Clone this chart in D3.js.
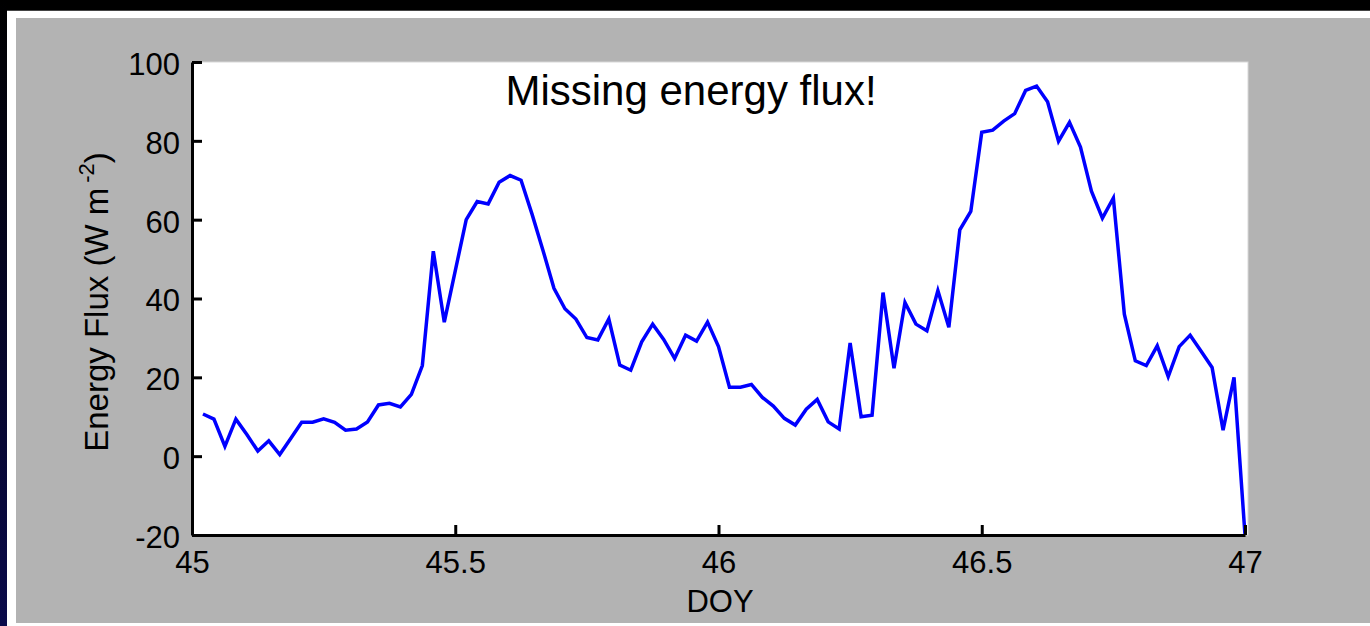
<!DOCTYPE html>
<html>
<head>
<meta charset="utf-8">
<script src="https://cdn.jsdelivr.net/npm/d3@7"></script>
<style>
  html, body { margin: 0; padding: 0; background: #000; }
  svg { display: block; }
  text { font-family: "Liberation Sans", Arial, Helvetica, sans-serif; fill: #000; }
</style>
</head>
<body>
<svg id="chart" width="1370" height="626"></svg>
<script>
// Half-hourly energy flux over two days of year (DOY 45 - 47)
const doyStart = 45;
const stepsPerDay = 48;
const fluxValues = [
  10.7, 9.4, 2.5, 9.4, 5.5, 1.3, 3.9, 0.4, 4.5, 8.6,
  8.6, 9.5, 8.6, 6.6, 6.9, 8.7, 13.0, 13.4, 12.5, 15.7,
  23.0, 52.0, 34.0, 47.0, 60.0, 64.6, 64.0, 69.5, 71.2, 70.0,
  61.4, 52.2, 42.6, 37.4, 34.8, 30.1, 29.5, 34.8, 23.1, 21.8,
  29.0, 33.5, 29.6, 24.8, 30.7, 29.2, 34.0, 27.8, 17.5, 17.5,
  18.2, 14.9, 12.7, 9.6, 7.9, 11.9, 14.4, 8.7, 6.9, 28.7,
  10.0, 10.4, 41.5, 22.3, 39.0, 33.5, 31.8, 42.0, 32.7, 57.4,
  62.1, 82.2, 82.7, 85.0, 86.9, 92.8, 93.9, 89.9, 79.9, 84.7,
  78.4, 67.2, 60.4, 65.5, 36.0, 24.2, 23.0, 28.0, 20.2, 27.8,
  30.7, 26.6, 22.5, 6.6, 20.0, -20.0
];
const xTicks = [45, 45.5, 46, 46.5, 47];
const yTicks = [-20, 0, 20, 40, 60, 80, 100];
const titleText = "Missing energy flux!";
const xLabel = "DOY";
const yLabelMain = "Energy Flux (W m";
const yLabelSup = "-2";

(function () {
  const svg = d3.select("#chart");

  // slide frame: black top band, dark left edge, white margins, grey panel
  const defs = svg.append("defs");
  const edge = defs.append("linearGradient").attr("id", "edgeGrad")
    .attr("x1", 0).attr("y1", 0).attr("x2", 0).attr("y2", 1);
  edge.append("stop").attr("offset", "0%").attr("stop-color", "#000000");
  edge.append("stop").attr("offset", "100%").attr("stop-color", "#0a0a4a");

  svg.append("rect").attr("x", 0).attr("y", 0).attr("width", 1370).attr("height", 626).attr("fill", "#ffffff");
  svg.append("rect").attr("x", 0).attr("y", 0).attr("width", 1370).attr("height", 10).attr("fill", "#000000");
  svg.append("rect").attr("x", 0).attr("y", 10).attr("width", 1370).attr("height", 1).attr("fill", "#444444");
  svg.append("rect").attr("x", 0).attr("y", 0).attr("width", 7).attr("height", 626).attr("fill", "url(#edgeGrad)");
  svg.append("rect").attr("x", 16).attr("y", 18).attr("width", 1354).attr("height", 605).attr("fill", "#b3b3b3");

  // plot geometry
  const pLeft = 192, pRight = 1245, pTop = 62, pBottom = 535;

  const x = d3.scaleLinear().domain([45, 47]).range([pLeft, pRight]);
  const y = d3.scaleLinear().domain([-20, 100]).range([pBottom, pTop]);

  // white plotting area
  svg.append("rect")
    .attr("x", pLeft).attr("y", pTop)
    .attr("width", 1248 - pLeft).attr("height", pBottom - pTop)
    .attr("fill", "#ffffff").attr("stroke", "#d8d8d8").attr("stroke-width", 1);

  // data series
  const series = fluxValues.map((v, i) => ({ t: doyStart + (i + 1) / stepsPerDay, v }));

  svg.append("path")
    .datum(series)
    .attr("fill", "none")
    .attr("stroke", "#0000ff")
    .attr("stroke-width", 3.5)
    .attr("stroke-linejoin", "miter")
    .attr("d", d3.line().x(d => x(d.t)).y(d => y(d.v)));

  // axes with inward ticks; plain hyphen for negative labels
  const plain = d => String(d);

  const yAxis = svg.append("g").attr("transform", `translate(${pLeft},0)`)
    .call(d3.axisRight(y).tickValues(yTicks).tickSize(10).tickSizeOuter(0).tickFormat(plain));
  yAxis.select(".domain").attr("stroke", "#000").attr("stroke-width", 3);
  yAxis.selectAll(".tick line").attr("stroke", "#000").attr("stroke-width", 3);
  yAxis.selectAll(".tick text")
    .attr("x", -12).attr("dy", "0.40em")
    .attr("text-anchor", "end")
    .style("font-size", "31px");

  const xAxis = svg.append("g").attr("transform", `translate(0,${pBottom})`)
    .call(d3.axisTop(x).tickValues(xTicks).tickSize(10).tickSizeOuter(0).tickFormat(plain));
  xAxis.select(".domain").attr("stroke", "#000").attr("stroke-width", 3);
  xAxis.selectAll(".tick line").attr("stroke", "#000").attr("stroke-width", 3);
  xAxis.selectAll(".tick text")
    .attr("y", 38).attr("dy", 0)
    .attr("text-anchor", "middle")
    .style("font-size", "31px");

  // title inside the plot
  svg.append("text")
    .attr("x", 691).attr("y", 105)
    .attr("text-anchor", "middle")
    .style("font-size", "42px")
    .text(titleText);

  // axis labels
  svg.append("text")
    .attr("x", 720).attr("y", 612)
    .attr("text-anchor", "middle")
    .style("font-size", "31px")
    .text(xLabel);

  const yl = svg.append("text")
    .attr("transform", "translate(108,302) rotate(-90)")
    .attr("text-anchor", "middle")
    .style("font-size", "33px");
  yl.append("tspan").text(yLabelMain);
  yl.append("tspan").attr("dx", 5).attr("dy", -14).style("font-size", "22px").text(yLabelSup);
  yl.append("tspan").attr("dy", 14).text(")");
})();
</script>
</body>
</html>
